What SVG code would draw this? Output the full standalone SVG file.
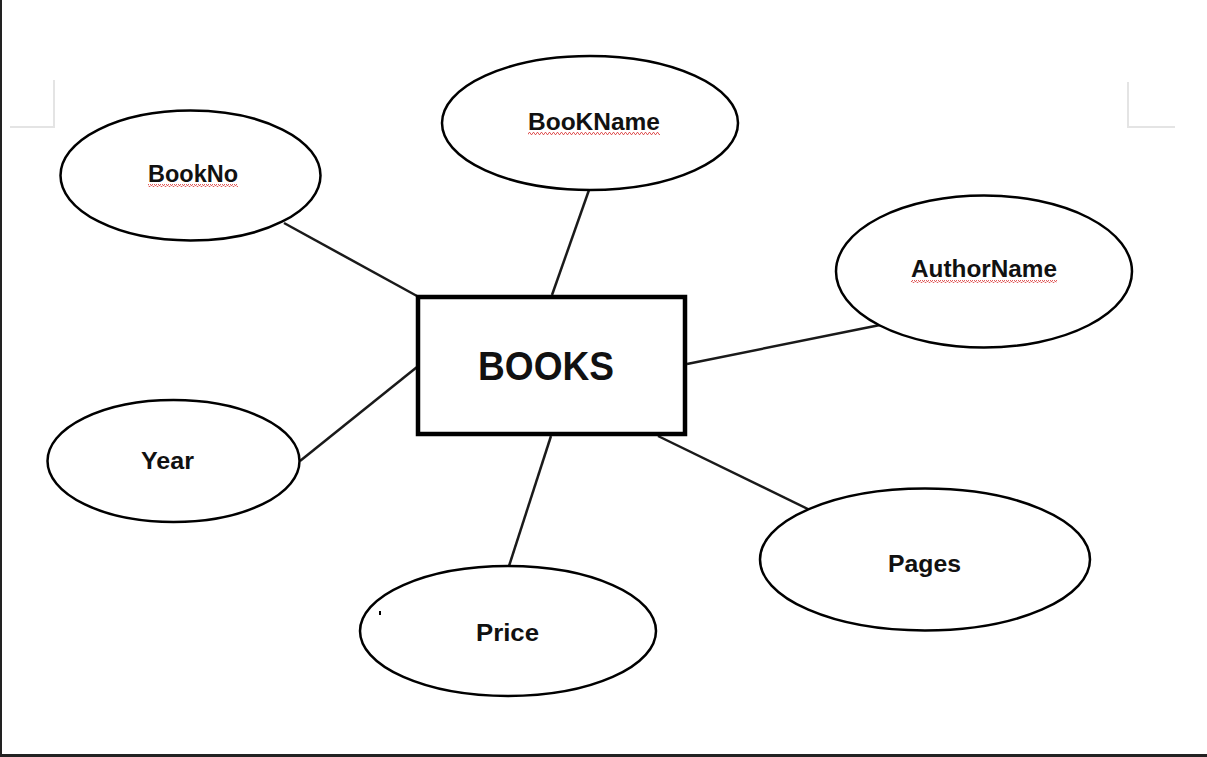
<svg xmlns="http://www.w3.org/2000/svg" width="1207" height="757" viewBox="0 0 1207 757">
<style>
.attr{fill:#fff;stroke:#000;stroke-width:2.5}
.lbl{font-family:"Liberation Sans",Arial,sans-serif;font-weight:bold;font-size:23px;fill:#111;text-anchor:middle}
.conn line{stroke:#1a1a1a;stroke-width:2.5}
.crop{stroke:#e4e4e4;stroke-width:2;fill:none}
</style>
<defs>
<pattern id="squig" width="4" height="3" patternUnits="userSpaceOnUse">
<polyline points="0,2.5 1,0.5 2,0.5 3,2.5 4,2.5" fill="none" stroke="#e05a5a" stroke-width="1"/>
</pattern>
</defs>
<rect x="0" y="0" width="1207" height="757" fill="#fff"/>
<rect x="0" y="0" width="2" height="757" fill="#222"/>
<rect x="0" y="754" width="1207" height="3" fill="#222"/>
<polyline class="crop" points="54,80 54,127 10,127"/>
<polyline class="crop" points="1128,82 1128,127 1175,127"/>
<g class="conn" id="connectors">
<line x1="284" y1="223" x2="417" y2="296"/>
<line x1="589" y1="190" x2="552" y2="295"/>
<line x1="880" y1="325" x2="687" y2="364"/>
<line x1="300" y1="461" x2="417" y2="367"/>
<line x1="551" y1="436" x2="509" y2="566"/>
<line x1="658" y1="436" x2="810" y2="510"/>
</g>
<g id="books">
<rect x="418" y="297" width="267" height="137" fill="#fff" stroke="#000" stroke-width="4.5"/>
<text x="546" y="380" class="lbl" style="font-size:40px" textLength="136" lengthAdjust="spacingAndGlyphs">BOOKS</text>
</g>
<g id="bookno">
<ellipse class="attr" cx="190.5" cy="175.5" rx="130" ry="65"/>
<text x="193" y="182" class="lbl" textLength="90" lengthAdjust="spacingAndGlyphs">BookNo</text>
<rect x="148" y="184" width="90" height="3" fill="url(#squig)"/>
</g>
<g id="bookname">
<ellipse class="attr" cx="590" cy="123" rx="148" ry="67"/>
<text x="594" y="130" class="lbl" textLength="132" lengthAdjust="spacingAndGlyphs">BooKName</text>
<rect x="528" y="132" width="132" height="3" fill="url(#squig)"/>
</g>
<g id="authorname">
<ellipse class="attr" cx="984" cy="271.5" rx="148" ry="76"/>
<text x="984" y="277" class="lbl" textLength="146" lengthAdjust="spacingAndGlyphs">AuthorName</text>
<rect x="911" y="280" width="146" height="3" fill="url(#squig)"/>
</g>
<g id="year">
<ellipse class="attr" cx="173.5" cy="461" rx="126" ry="61"/>
<text x="167.5" y="469" class="lbl" textLength="53" lengthAdjust="spacingAndGlyphs">Year</text>
</g>
<g id="price">
<ellipse class="attr" cx="508" cy="631" rx="148" ry="65"/>
<text x="507.5" y="641" class="lbl" textLength="63" lengthAdjust="spacingAndGlyphs">Price</text>
<rect x="379" y="611" width="2" height="4" fill="#000"/>
</g>
<g id="pages">
<ellipse class="attr" cx="925" cy="559.5" rx="165" ry="71"/>
<text x="924.5" y="572" class="lbl" textLength="73" lengthAdjust="spacingAndGlyphs">Pages</text>
</g>
</svg>
